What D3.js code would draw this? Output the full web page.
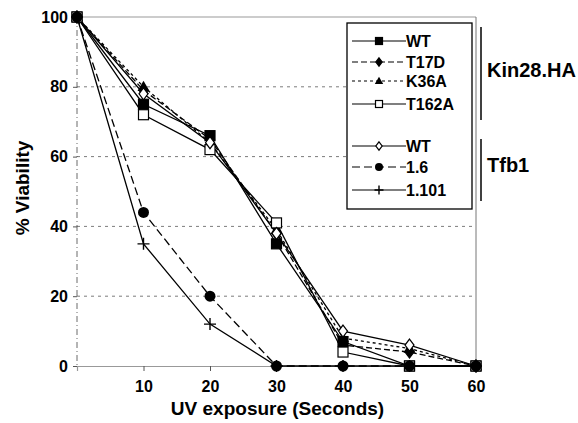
<!DOCTYPE html>
<html>
<head>
<meta charset="utf-8">
<script src="https://cdn.jsdelivr.net/npm/d3@7"></script>
<style>
  body { margin: 0; background: #fff; }
  text { font-family: "Liberation Sans", Arial, sans-serif; font-weight: bold; fill: #000; }
</style>
</head>
<body>
<div id="chart"></div>
<script>
// exposure times (seconds)
const seconds = [0, 10, 20, 30, 40, 50, 60];
const yTicks = [0, 20, 40, 60, 80, 100];
const xTicks = [10, 20, 30, 40, 50, 60];

// % viability per strain
const kinWT = [100, 75, 66, 35, 7, 0, 0];
const kinT17D = [100, 79, 65, 38, 6, 4, 0];
const kinK36A = [100, 80, 64, 39, 8, 5, 0];
const kinT162A = [100, 72, 62, 41, 4, 0, 0];
const tfbWT = [100, 78, 64, 38, 10, 6, 0];
const tfb16 = [100, 44, 20, 0, 0, 0, 0];
const tfb1101 = [100, 35, 12, 0, 0, 0, 0];

const series = [
    { name: "WT", values: kinWT, dash: null, marker: "square" },
    { name: "T17D", values: kinT17D, dash: "6,3", marker: "diamond" },
    { name: "K36A", values: kinK36A, dash: "3,3", marker: "triangle" },
    { name: "T162A", values: kinT162A, dash: null, marker: "squareOpen" },
    { name: "WT", values: tfbWT, dash: null, marker: "diamondOpen" },
    { name: "1.6", values: tfb16, dash: "8,4", marker: "circle" },
    { name: "1.101", values: tfb1101, dash: null, marker: "cross" }
];

const margin = { top: 17, right: 102, bottom: 57, left: 77 };
const width = 578 - margin.left - margin.right;
const height = 423 - margin.top - margin.bottom;

const svg = d3.select("#chart")
    .append("svg")
    .attr("width", 578)
    .attr("height", 423)
    .append("g")
    .attr("transform", `translate(${margin.left},${margin.top})`);

const x = d3.scaleLinear().domain([0, 60]).range([0, width]);
const y = d3.scaleLinear().domain([0, 100]).range([height, 0]);

// gridlines
svg.selectAll(".grid")
    .data([20, 40, 60, 80])
    .enter().append("line")
    .attr("x1", 0).attr("x2", width)
    .attr("y1", d => y(d)).attr("y2", d => y(d))
    .style("stroke", "#444").style("stroke-width", 0.7)
    .style("stroke-dasharray", "3,4");

// frame: top and right gray, left dash-dot
svg.append("line").attr("x1", 0).attr("x2", width).attr("y1", 0).attr("y2", 0)
    .style("stroke", "#999").style("stroke-width", 1.2);
svg.append("line").attr("x1", width).attr("x2", width).attr("y1", 0).attr("y2", height)
    .style("stroke", "#777").style("stroke-width", 1);
svg.append("line").attr("x1", 0).attr("x2", 0).attr("y1", 0).attr("y2", height)
    .style("stroke", "#444").style("stroke-width", 0.8).style("stroke-dasharray", "6,3,1,3");

// axes
const xAxis = svg.append("g")
    .attr("transform", `translate(0,${height})`)
    .call(d3.axisBottom(x).tickValues(xTicks).tickSize(5).tickPadding(10));
xAxis.select(".domain").style("stroke", "#999").style("stroke-width", 1.2);
xAxis.selectAll("line").style("stroke", "#555");
xAxis.selectAll("text").style("font-size", "16px").style("font-family", "Liberation Sans, Arial").style("font-weight", "bold");

const yAxis = svg.append("g")
    .call(d3.axisLeft(y).tickValues(yTicks).tickSize(4).tickPadding(5));
yAxis.select(".domain").remove();
yAxis.selectAll("line").style("stroke", "#555");
yAxis.selectAll("text").style("font-size", "16px").style("font-family", "Liberation Sans, Arial").style("font-weight", "bold");

// lines
const line = d3.line()
    .x((d, i) => x(seconds[i]))
    .y(d => y(d));

svg.selectAll(".series")
    .data(series)
    .enter().append("path")
    .attr("d", d => line(d.values))
    .style("fill", "none")
    .style("stroke", "#000")
    .style("stroke-width", 1.3)
    .style("stroke-dasharray", d => d.dash);

function drawMarker(g, type, cx, cy, s) {
    if (type === "square" || type === "squareOpen") {
        g.append("rect").attr("x", cx - s / 2).attr("y", cy - s / 2)
            .attr("width", s).attr("height", s)
            .style("fill", type === "square" ? "#000" : "#fff")
            .style("stroke", "#000").style("stroke-width", 1.2);
    } else if (type === "diamond" || type === "diamondOpen") {
        const r = s * 0.6;
        g.append("path")
            .attr("d", `M${cx},${cy - r}L${cx + r * 0.75},${cy}L${cx},${cy + r}L${cx - r * 0.75},${cy}Z`)
            .style("fill", type === "diamond" ? "#000" : "#fff")
            .style("stroke", "#000").style("stroke-width", 1.2);
    } else if (type === "triangle") {
        const r = s * 0.6;
        g.append("path")
            .attr("d", `M${cx},${cy - r}L${cx + r},${cy + r * 0.7}L${cx - r},${cy + r * 0.7}Z`)
            .style("fill", "#000");
    } else if (type === "circle") {
        g.append("circle").attr("cx", cx).attr("cy", cy).attr("r", s / 2 + 0.5)
            .style("fill", "#000");
    } else if (type === "cross") {
        const r = s / 2 + 1;
        g.append("path")
            .attr("d", `M${cx - r},${cy}L${cx + r},${cy}M${cx},${cy - r}L${cx},${cy + r}`)
            .style("stroke", "#000").style("stroke-width", 1.4);
    }
}

// markers
const markerLayer = svg.append("g");
series.forEach(s => {
    s.values.forEach((v, i) => {
        drawMarker(markerLayer, s.marker, x(seconds[i]), y(v), 10);
    });
});

// legend
const legend = svg.append("g").attr("transform", `translate(${347 - margin.left},${23 - margin.top})`);
legend.append("rect")
    .attr("width", 125).attr("height", 186)
    .style("fill", "#fff").style("stroke", "#000").style("stroke-width", 1.3);

const legendY = [18, 39, 58, 81, 123, 144, 167];
series.forEach((s, i) => {
    const row = legend.append("g").attr("transform", `translate(0,${legendY[i]})`);
    row.append("line").attr("x1", 5).attr("x2", 59).attr("y1", 0).attr("y2", 0)
        .style("stroke", "#000").style("stroke-width", 1.2)
        .style("stroke-dasharray", s.dash);
    drawMarker(row, s.marker, 32, 0, 7);
    row.append("text").attr("x", 59).attr("y", 6)
        .style("font-size", "16px").text(s.name);
});

// group brackets
svg.append("line").attr("x1", 481 - margin.left).attr("x2", 481 - margin.left)
    .attr("y1", 27 - margin.top).attr("y2", 120 - margin.top)
    .style("stroke", "#000").style("stroke-width", 1.5);
svg.append("line").attr("x1", 481 - margin.left).attr("x2", 481 - margin.left)
    .attr("y1", 139 - margin.top).attr("y2", 201 - margin.top)
    .style("stroke", "#000").style("stroke-width", 1.5);
svg.append("text").attr("x", 487 - margin.left).attr("y", 77 - margin.top)
    .style("font-size", "20px").text("Kin28.HA");
svg.append("text").attr("x", 487 - margin.left).attr("y", 172 - margin.top)
    .style("font-size", "20px").text("Tfb1");

// axis titles
svg.append("text")
    .attr("x", width / 2 + 1)
    .attr("y", height + 49)
    .attr("text-anchor", "middle")
    .style("font-size", "19px")
    .text("UV exposure (Seconds)");

svg.append("text")
    .attr("transform", "rotate(-90)")
    .attr("x", -(188 - margin.top))
    .attr("y", -margin.left + 29)
    .attr("text-anchor", "middle")
    .style("font-size", "19px")
    .text("% Viability");
</script>
</body>
</html>
